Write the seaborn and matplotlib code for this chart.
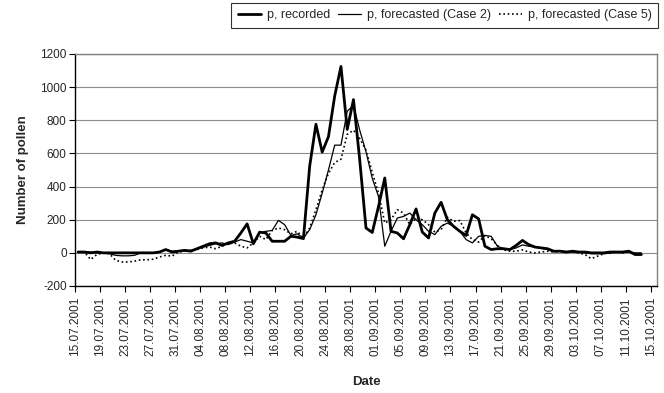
import matplotlib
matplotlib.use("Agg")
import matplotlib.pyplot as plt
import matplotlib.dates as mdates
import pandas as pd
import seaborn as sns

start_date = "2001-07-15"

recorded = [5, 5, 0, 5, 0, 0, 0, 0, 0, 0,
            0, 0, 0, 5, 20, 5, 10, 15, 10, 25,
            40, 55, 60, 45, 60, 70, 120, 175, 55, 125,
            120, 70, 70, 70, 100, 95, 86, 523, 776, 608,
            701, 947, 1125, 745, 925, 560, 150, 123, 280, 452,
            130, 120, 85, 170, 265, 125, 90, 240, 305, 200,
            160, 130, 105, 230, 205, 40, 20, 25, 25, 20,
            45, 75, 50, 35, 30, 25, 10, 10, 5, 10,
            5, 5, 0, 0, 0, 5, 5, 5, 10, -10, -10]

case2 = [5, 5, 5, 0, 0, -5, -15, -18, -18, -15,
         0, 0, 0, 5, 20, 10, 10, 15, 15, 25,
         35, 45, 55, 60, 50, 65, 80, 70, 60, 120,
         130, 135, 196, 170, 105, 115, 90, 140, 230, 360,
         500, 650, 650, 855, 890, 740, 610, 450, 340, 40,
         130, 210, 220, 240, 200, 170, 130, 110, 160, 180,
         160, 130, 80, 60, 100, 105, 100, 40, 25, 20,
         30, 48, 40, 35, 28, 20, 8, 10, 8, 5,
         5, 0, -5, -5, -5, 0, 5, 5, 5, 0, 0]

case5 = [5, 5, -40, -10, 0, -5, -45, -55, -55, -50,
         -42, -42, -38, -25, -15, -20, 5, 10, 15, 20,
         30, 35, 25, 40, 55, 60, 40, 30, 60, 100,
         80, 135, 150, 140, 115, 130, 90, 150, 260, 380,
         480, 545, 565, 715, 740, 690, 620, 485, 360, 180,
         200, 260, 240, 170, 210, 200, 170, 125, 140, 215,
         190, 195, 120, 80, 65, 105, 85, 45, 18, 10,
         10, 18, 5, 0, 5, 10, 5, 10, 5, 5,
         0, -10, -35, -20, -5, 0, 5, 0, 5, -10, -10]

series_names = ["p, recorded", "p, forecasted (Case 2)", "p, forecasted (Case 5)"]
tick_dates = pd.date_range("2001-07-15", "2001-10-15", freq="4D")
y_ticks = [-200, 0, 200, 400, 600, 800, 1000, 1200]

dates = pd.date_range(start_date, periods=len(recorded), freq="D") + pd.Timedelta(hours=12)
df = pd.DataFrame({"date": dates, "p, recorded": recorded,
                   "p, forecasted (Case 2)": case2,
                   "p, forecasted (Case 5)": case5})
long = df.melt(id_vars="date", var_name="series", value_name="value")

sns.set_style("white")
plt.rcParams["font.family"] = ["Liberation Sans", "DejaVu Sans"]

fig = plt.figure(figsize=(6.64, 3.93), dpi=100)
ax = fig.add_axes([75 / 664, 1 - 286 / 393, (657 - 75) / 664, (286 - 54) / 393])

styles = {
    "p, recorded": dict(lw=2.0, ls="-"),
    "p, forecasted (Case 2)": dict(lw=0.9, ls="-"),
    "p, forecasted (Case 5)": dict(lw=1.2, ls=(0, (1, 1.6))),
}
for name in series_names:
    sub = long[long["series"] == name]
    sns.lineplot(data=sub, x="date", y="value", ax=ax, color="black",
                 linewidth=styles[name]["lw"], linestyle=styles[name]["ls"],
                 label=name, legend=False)

ax.set_xlim(pd.Timestamp("2001-07-15"), pd.Timestamp("2001-10-16"))
ax.set_ylim(-200, 1200)
ax.set_yticks(y_ticks)
ax.set_yticklabels([str(v) for v in y_ticks], fontsize=8.5)
ax.set_xticks(tick_dates)
ax.xaxis.set_major_formatter(mdates.DateFormatter("%d.%m.%Y"))
plt.setp(ax.get_xticklabels(), rotation=90, fontsize=8.5)

ax.yaxis.grid(True, color="#8c8c8c", linewidth=0.8)
ax.xaxis.grid(False)
ax.set_axisbelow(True)

for side in ["left", "bottom"]:
    ax.spines[side].set_color("black")
    ax.spines[side].set_linewidth(1.0)
for side in ["top", "right"]:
    ax.spines[side].set_color("#808080")
    ax.spines[side].set_linewidth(1.0)

ax.tick_params(axis="x", direction="out", length=4, width=0.8, color="black",
               bottom=True, pad=4)
ax.tick_params(axis="y", direction="out", length=4, width=0.8, color="black",
               left=True, pad=2)

ax.set_xlabel("Date", fontsize=9.5, fontweight="bold", labelpad=14)
ax.set_ylabel("Number of pollen", fontsize=9.5, fontweight="bold", labelpad=8)

handles, labels = ax.get_legend_handles_labels()
leg = fig.legend(handles, labels, loc="upper right", ncol=3,
                 bbox_to_anchor=(658 / 664, 1 - 3 / 393), fontsize=9,
                 frameon=True, fancybox=False, edgecolor="black",
                 handlelength=1.9, columnspacing=0.6, handletextpad=0.45,
                 borderpad=0.5, borderaxespad=0.0)
leg.get_frame().set_linewidth(0.8)

fig.savefig("out.png", dpi=100, facecolor="white")
